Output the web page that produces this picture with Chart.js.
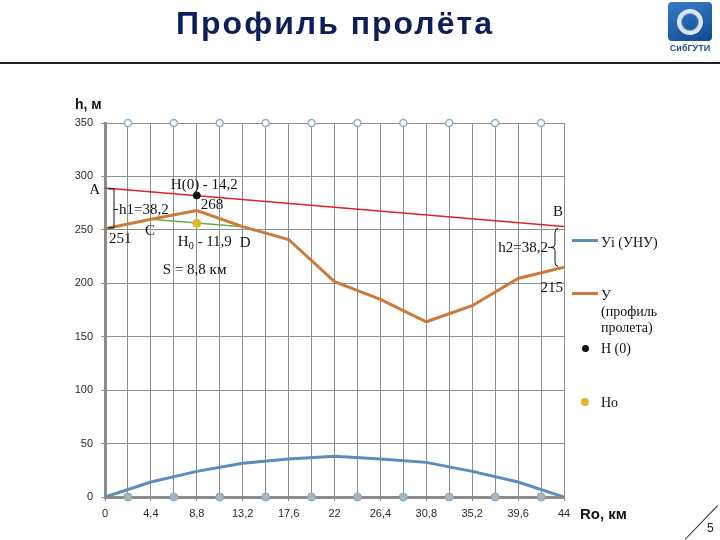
<!DOCTYPE html>
<html><head><meta charset="utf-8">
<script src="https://cdn.jsdelivr.net/npm/chart.js@4.4.1/dist/chart.umd.min.js"></script>
<style>
body{margin:0;background:#fff;}
#wrap{position:relative;width:720px;height:540px;overflow:hidden;background:#fff;}
#c{position:absolute;left:0;top:0;}
.title{position:absolute;left:0;width:670px;top:5px;text-align:center;font:bold 32px "Liberation Sans",Arial,sans-serif;color:#0c1f5c;letter-spacing:2px;}
.hr{position:absolute;left:0;top:62px;width:720px;height:2px;background:#222;}
.logo{position:absolute;left:668px;top:2px;width:44px;height:39px;border-radius:4px;background:linear-gradient(160deg,#3a7cc4,#0f4a92);}
.ring{position:absolute;left:9px;top:7px;width:18px;height:18px;border-radius:50%;border:4px solid #d8e8f8;box-shadow:0 0 0 1px #7fb0e0 inset;}
.logotext{position:absolute;left:664px;top:43px;width:52px;text-align:center;font:bold 9px "Liberation Sans",Arial,sans-serif;color:#1d4b8f;}
.lt{position:absolute;font:14px "Liberation Serif","Times New Roman",serif;color:#111;line-height:16px;white-space:nowrap;}
.ll{position:absolute;height:3px;width:26px;}
.ld{position:absolute;border-radius:50%;}
.pg{position:absolute;left:707px;top:521px;font:12px "Liberation Sans",Arial,sans-serif;color:#222;}
.slash{position:absolute;left:685px;top:539px;width:47px;height:1px;background:#222;transform:rotate(-46deg);transform-origin:left center;}
</style></head>
<body><div id="wrap">
<canvas id="c" width="720" height="540"></canvas>
<div class="title">Профиль пролёта</div>
<div class="hr"></div>
<div class="logo"><div class="ring"></div></div>
<div class="logotext">СибГУТИ</div>
<div class="ll" style="left:572px;top:239px;background:#5b8cbd"></div>
<div class="lt" style="left:601px;top:235px">Уi (УНУ)</div>
<div class="ll" style="left:572px;top:292px;background:#cc7a3c"></div>
<div class="lt" style="left:601px;top:288px">У<br>(профиль<br>пролета)</div>
<div class="ld" style="left:582px;top:345px;width:7px;height:7px;background:#111"></div>
<div class="lt" style="left:601px;top:341px">H (0)</div>
<div class="ld" style="left:581px;top:398px;width:8px;height:8px;background:#e2b52a"></div>
<div class="lt" style="left:601px;top:395px">Hо</div>
<div class="slash"></div>
<div class="pg">5</div>
</div>
<script>
// ---- data ----
const distances = [0, 4.4, 8.8, 13.2, 17.6, 22, 26.4, 30.8, 35.2, 39.6, 44];
const unyValues = [0, 14, 24, 31.5, 35.5, 38.2, 35.5, 32.4, 24, 14, 0];
const profileValues = [251, 260, 268, 253, 241, 201.5, 185, 164, 179, 204.5, 215];
const lineABDist = [0, 44];
const lineABValues = [289.2, 253.2];
const lineCDDist = [4.4, 13.2];
const lineCDValues = [260, 253];
const pointDist = [8.8];
const h0PointValues = [282.2];
const hoPointValues = [256.1];
const markerDist = [2.2, 6.6, 11, 15.4, 19.8, 24.2, 28.6, 33, 37.4, 41.8];
const markerTopValues = [350, 350, 350, 350, 350, 350, 350, 350, 350, 350];
const markerBottomValues = [0, 0, 0, 0, 0, 0, 0, 0, 0, 0];
const xGridValues = [0, 2.2, 4.4, 6.6, 8.8, 11, 13.2, 15.4, 17.6, 19.8, 22, 24.2, 26.4, 28.6, 30.8, 33, 35.2, 37.4, 39.6, 41.8, 44];
const xTickLabels = ['0', '4,4', '8,8', '13,2', '17,6', '22', '26,4', '30,8', '35,2', '39,6', '44'];
const yTickLabels = ['0', '50', '100', '150', '200', '250', '300', '350'];

const pts = (xs, ys) => xs.map((v, i) => ({x: v, y: ys[i]}));

const annot = {
  id: 'annot',
  afterDatasetsDraw(chart) {
    const {ctx, scales: {x, y}} = chart;
    const X = v => x.getPixelForValue(v), Y = v => y.getPixelForValue(v);
    ctx.save();
    ctx.fillStyle = '#111'; ctx.strokeStyle = '#111'; ctx.lineWidth = 1;
    ctx.font = '15px "Liberation Serif", "Times New Roman", serif';
    ctx.textBaseline = 'alphabetic';
    const t = (s, px, py, al) => { ctx.textAlign = al || 'left'; ctx.fillText(s, px, py); };
    const ax = X(lineABDist[0]), ay = Y(lineABValues[0]);
    const bx = X(lineABDist[1]), by = Y(lineABValues[1]);
    const p0x = X(distances[0]), p0y = Y(profileValues[0]);
    const pNx = X(distances[10]), pNy = Y(profileValues[10]);
    const pkx = X(distances[2]), pky = Y(profileValues[2]);
    const hx = X(pointDist[0]), hy = Y(h0PointValues[0]);
    const ox = X(pointDist[0]), oy = Y(hoPointValues[0]);
    const cx = X(lineCDDist[0]), cy = Y(lineCDValues[0]);
    const dx = X(lineCDDist[1]), dy = Y(lineCDValues[1]);
    t('A', ax - 5, ay + 6, 'right');
    t('B', bx - 11, by - 10);
    t('C', cx - 6, cy + 16);
    t('D', dx - 3, dy + 20);
    t('H(0) - 14,2', hx - 26, hy - 6);
    t('268', pkx + 4, pky - 2);
    t('251', p0x + 4, p0y + 14);
    t('215', pNx - 1, pNy + 25, 'right');
    // H0 with subscript
    let sx = ox - 19, sy = oy + 23;
    t('H', sx, sy); sx += ctx.measureText('H').width;
    ctx.font = '10px "Liberation Serif", serif';
    t('0', sx, sy + 3); sx += ctx.measureText('0').width;
    ctx.font = '15px "Liberation Serif", "Times New Roman", serif';
    t(' - 11,9', sx, sy);
    t('S = 8,8 км', ox - 34, oy + 51);
    // h1 bracket
    const bx1 = p0x + 9;
    ctx.beginPath();
    ctx.moveTo(bx1 - 6, ay + 1); ctx.lineTo(bx1, ay + 1); ctx.lineTo(bx1, p0y - 1); ctx.lineTo(bx1 - 6, p0y - 1);
    const mid1 = (ay + p0y) / 2;
    ctx.moveTo(bx1, mid1 + 1); ctx.lineTo(bx1 + 4, mid1 + 1);
    ctx.stroke();
    t('h1=38,2', bx1 + 5, mid1 + 6);
    // h2 brace
    const bxr = bx - 9, y1 = by + 2, y2 = pNy - 1, ym = (y1 + y2) / 2;
    ctx.beginPath();
    ctx.moveTo(bxr + 3, y1);
    ctx.quadraticCurveTo(bxr, y1, bxr, y1 + 4);
    ctx.lineTo(bxr, ym - 3);
    ctx.quadraticCurveTo(bxr, ym, bxr - 4, ym);
    ctx.quadraticCurveTo(bxr, ym, bxr, ym + 3);
    ctx.lineTo(bxr, y2 - 4);
    ctx.quadraticCurveTo(bxr, y2, bxr + 3, y2);
    ctx.moveTo(bxr - 4, ym); ctx.lineTo(bxr - 7, ym);
    ctx.stroke();
    t('h2=38,2', bxr - 7, ym + 5, 'right');
    ctx.restore();
  }
};

new Chart(document.getElementById('c'), {
  type: 'line',
  data: {
    datasets: [
      {label: 'H (0)', data: pts(pointDist, h0PointValues), showLine: false, pointRadius: 3.5, pointBackgroundColor: '#111', pointBorderColor: '#111', order: 0},
      {label: 'Hо', data: pts(pointDist, hoPointValues), showLine: false, pointRadius: 4, pointBackgroundColor: '#e2b52a', pointBorderColor: '#e2b52a', order: 0},
      {label: 'У (профиль пролета)', data: pts(distances, profileValues), borderColor: '#cc7a3c', borderWidth: 3, pointRadius: 0, tension: 0, order: 1},
      {label: 'AB', data: pts(lineABDist, lineABValues), borderColor: '#e0202a', borderWidth: 1.5, pointRadius: 0, order: 2},
      {label: 'CD', data: pts(lineCDDist, lineCDValues), borderColor: '#6aae45', borderWidth: 1.5, pointRadius: 0, order: 3},
      {label: 'Уi (УНУ)', data: pts(distances, unyValues), borderColor: '#5b8cbd', borderWidth: 3, pointRadius: 0, order: 4},
      {label: 'top', data: pts(markerDist, markerTopValues), showLine: false, pointRadius: 3.5, pointBackgroundColor: '#ffffff', pointBorderColor: '#8fb0c0', pointBorderWidth: 1.5, clip: false, order: 5},
      {label: 'bottom', data: pts(markerDist, markerBottomValues), showLine: false, pointRadius: 4, pointBackgroundColor: '#a3b8c2', pointBorderColor: '#8aa6b4', pointBorderWidth: 1, clip: false, order: 5}
    ]
  },
  options: {
    responsive: false, animation: false,
    layout: {padding: {left: 65, right: 156, top: 123, bottom: 18}},
    plugins: {legend: {display: false}, tooltip: {enabled: false}},
    scales: {
      x: {
        type: 'linear', min: 0, max: 44,
        afterBuildTicks: s => { s.ticks = xGridValues.map(v => ({value: v})); },
        afterFit: s => { s.height = 25; },
        ticks: {autoSkip: false, maxRotation: 0, padding: 6, color: '#2a2a2a',
          font: {family: '"Liberation Sans", Arial, sans-serif', size: 11},
          callback: (v, i) => i % 2 === 0 ? xTickLabels[i / 2] : ''},
        grid: {color: '#8e8e8e', lineWidth: 1, tickLength: 4, tickColor: '#8e8e8e'},
        border: {color: '#8c8c8c', width: 3}
      },
      y: {
        min: 0, max: 350,
        afterFit: s => { s.width = 40; },
        ticks: {stepSize: 50, padding: 8, color: '#2a2a2a',
          font: {family: '"Liberation Sans", Arial, sans-serif', size: 11},
          callback: (v, i) => yTickLabels[i]},
        grid: {color: '#8e8e8e', lineWidth: 1, tickLength: 4, tickColor: '#8e8e8e'},
        border: {color: '#8c8c8c', width: 3},
        title: {display: false}
      }
    }
  },
  plugins: [annot, {
    id: 'axisTitles',
    afterDraw(chart) {
      const {ctx, chartArea} = chart;
      ctx.save();
      ctx.fillStyle = '#111';
      ctx.font = 'bold 14px "Liberation Sans", Arial, sans-serif';
      ctx.textAlign = 'left'; ctx.textBaseline = 'alphabetic';
      ctx.fillText('h, м', chartArea.left - 30, chartArea.top - 14);
      ctx.font = 'bold 15px "Liberation Sans", Arial, sans-serif';
      ctx.fillText('Ro, км', chartArea.right + 16, chartArea.bottom + 22);
      ctx.restore();
    }
  }]
});
</script>
</body></html>
